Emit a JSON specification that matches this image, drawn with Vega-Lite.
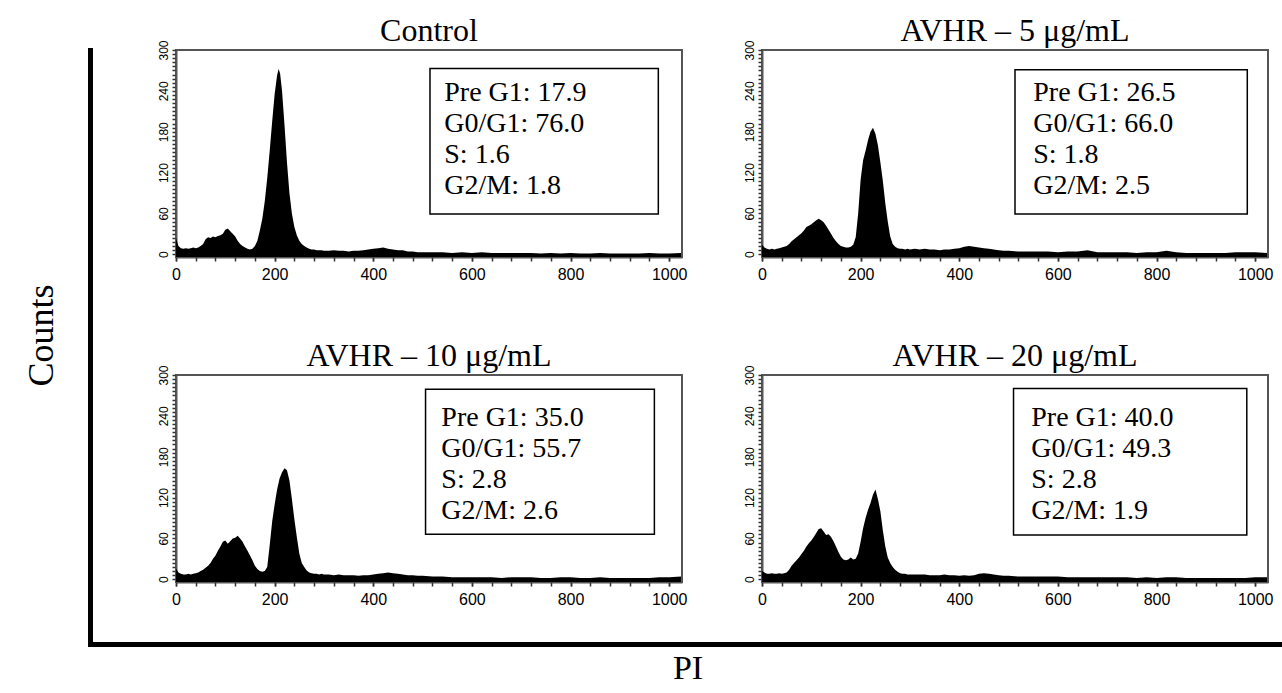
{
"$schema": "https://vega.github.io/schema/vega-lite/v6.json",
"autosize": {"type": "pad"},
"padding": {"left": 23, "top": 13, "right": 0, "bottom": 0},
"background": "white",
"datasets": {
"hist": [
{"dose":0,"pi":0,"count":24},{"dose":0,"pi":5,"count":12},{"dose":0,"pi":10,"count":9},{"dose":0,"pi":15,"count":8},{"dose":0,"pi":20,"count":9},{"dose":0,"pi":25,"count":8},{"dose":0,"pi":30,"count":9},{"dose":0,"pi":35,"count":10},{"dose":0,"pi":40,"count":9},{"dose":0,"pi":45,"count":10},{"dose":0,"pi":50,"count":12},{"dose":0,"pi":55,"count":15},{"dose":0,"pi":60,"count":22},{"dose":0,"pi":65,"count":25},{"dose":0,"pi":70,"count":24},{"dose":0,"pi":75,"count":26},{"dose":0,"pi":80,"count":25},{"dose":0,"pi":85,"count":27},{"dose":0,"pi":90,"count":28},{"dose":0,"pi":95,"count":30},{"dose":0,"pi":100,"count":36},{"dose":0,"pi":105,"count":38},{"dose":0,"pi":110,"count":34},{"dose":0,"pi":115,"count":30},{"dose":0,"pi":120,"count":26},{"dose":0,"pi":125,"count":20},{"dose":0,"pi":130,"count":15},{"dose":0,"pi":135,"count":12},{"dose":0,"pi":140,"count":10},{"dose":0,"pi":145,"count":8},{"dose":0,"pi":150,"count":7},{"dose":0,"pi":155,"count":8},{"dose":0,"pi":160,"count":12},{"dose":0,"pi":165,"count":20},{"dose":0,"pi":170,"count":35},{"dose":0,"pi":175,"count":52},{"dose":0,"pi":180,"count":78},{"dose":0,"pi":185,"count":112},{"dose":0,"pi":190,"count":152},{"dose":0,"pi":195,"count":195},{"dose":0,"pi":200,"count":235},{"dose":0,"pi":205,"count":263},{"dose":0,"pi":208,"count":272},{"dose":0,"pi":211,"count":266},{"dose":0,"pi":215,"count":240},{"dose":0,"pi":220,"count":190},{"dose":0,"pi":225,"count":135},{"dose":0,"pi":230,"count":90},{"dose":0,"pi":235,"count":60},{"dose":0,"pi":240,"count":40},{"dose":0,"pi":245,"count":28},{"dose":0,"pi":250,"count":20},{"dose":0,"pi":255,"count":15},{"dose":0,"pi":260,"count":12},{"dose":0,"pi":265,"count":10},{"dose":0,"pi":270,"count":8},{"dose":0,"pi":275,"count":7},{"dose":0,"pi":280,"count":7},{"dose":0,"pi":285,"count":6},{"dose":0,"pi":290,"count":6},{"dose":0,"pi":295,"count":6},{"dose":0,"pi":300,"count":5},{"dose":0,"pi":310,"count":5},{"dose":0,"pi":320,"count":6},{"dose":0,"pi":330,"count":5},{"dose":0,"pi":340,"count":5},{"dose":0,"pi":350,"count":4},{"dose":0,"pi":360,"count":5},{"dose":0,"pi":370,"count":5},{"dose":0,"pi":380,"count":6},{"dose":0,"pi":390,"count":7},{"dose":0,"pi":400,"count":8},{"dose":0,"pi":410,"count":9},{"dose":0,"pi":420,"count":10},{"dose":0,"pi":430,"count":8},{"dose":0,"pi":440,"count":7},{"dose":0,"pi":450,"count":6},{"dose":0,"pi":460,"count":6},{"dose":0,"pi":470,"count":4},{"dose":0,"pi":480,"count":4},{"dose":0,"pi":490,"count":3},{"dose":0,"pi":500,"count":3},{"dose":0,"pi":520,"count":3},{"dose":0,"pi":540,"count":3},{"dose":0,"pi":560,"count":2},{"dose":0,"pi":580,"count":3},{"dose":0,"pi":600,"count":2},{"dose":0,"pi":620,"count":3},{"dose":0,"pi":640,"count":2},{"dose":0,"pi":660,"count":2},{"dose":0,"pi":680,"count":2},{"dose":0,"pi":700,"count":2},{"dose":0,"pi":720,"count":2},{"dose":0,"pi":740,"count":1},{"dose":0,"pi":760,"count":2},{"dose":0,"pi":780,"count":1},{"dose":0,"pi":800,"count":2},{"dose":0,"pi":820,"count":1},{"dose":0,"pi":840,"count":1},{"dose":0,"pi":860,"count":2},{"dose":0,"pi":880,"count":1},{"dose":0,"pi":900,"count":1},{"dose":0,"pi":920,"count":1},{"dose":0,"pi":940,"count":1},{"dose":0,"pi":960,"count":2},{"dose":0,"pi":980,"count":1},{"dose":0,"pi":1000,"count":1},{"dose":0,"pi":1024,"count":2},
{"dose":5,"pi":0,"count":14},{"dose":5,"pi":5,"count":10},{"dose":5,"pi":10,"count":8},{"dose":5,"pi":15,"count":7},{"dose":5,"pi":20,"count":8},{"dose":5,"pi":25,"count":7},{"dose":5,"pi":30,"count":8},{"dose":5,"pi":35,"count":9},{"dose":5,"pi":40,"count":10},{"dose":5,"pi":45,"count":11},{"dose":5,"pi":50,"count":12},{"dose":5,"pi":55,"count":15},{"dose":5,"pi":60,"count":19},{"dose":5,"pi":65,"count":22},{"dose":5,"pi":70,"count":25},{"dose":5,"pi":75,"count":28},{"dose":5,"pi":80,"count":31},{"dose":5,"pi":85,"count":35},{"dose":5,"pi":90,"count":40},{"dose":5,"pi":95,"count":42},{"dose":5,"pi":100,"count":44},{"dose":5,"pi":105,"count":47},{"dose":5,"pi":110,"count":50},{"dose":5,"pi":115,"count":52},{"dose":5,"pi":120,"count":50},{"dose":5,"pi":125,"count":47},{"dose":5,"pi":130,"count":42},{"dose":5,"pi":135,"count":36},{"dose":5,"pi":140,"count":30},{"dose":5,"pi":145,"count":24},{"dose":5,"pi":150,"count":19},{"dose":5,"pi":155,"count":15},{"dose":5,"pi":160,"count":12},{"dose":5,"pi":165,"count":11},{"dose":5,"pi":170,"count":10},{"dose":5,"pi":175,"count":10},{"dose":5,"pi":180,"count":11},{"dose":5,"pi":185,"count":14},{"dose":5,"pi":190,"count":25},{"dose":5,"pi":195,"count":60},{"dose":5,"pi":200,"count":110},{"dose":5,"pi":205,"count":138},{"dose":5,"pi":210,"count":152},{"dose":5,"pi":215,"count":168},{"dose":5,"pi":220,"count":180},{"dose":5,"pi":225,"count":186},{"dose":5,"pi":230,"count":177},{"dose":5,"pi":235,"count":160},{"dose":5,"pi":240,"count":135},{"dose":5,"pi":245,"count":108},{"dose":5,"pi":250,"count":75},{"dose":5,"pi":255,"count":48},{"dose":5,"pi":260,"count":26},{"dose":5,"pi":265,"count":15},{"dose":5,"pi":270,"count":11},{"dose":5,"pi":275,"count":9},{"dose":5,"pi":280,"count":8},{"dose":5,"pi":285,"count":8},{"dose":5,"pi":290,"count":7},{"dose":5,"pi":295,"count":8},{"dose":5,"pi":300,"count":7},{"dose":5,"pi":310,"count":8},{"dose":5,"pi":320,"count":7},{"dose":5,"pi":330,"count":8},{"dose":5,"pi":340,"count":7},{"dose":5,"pi":350,"count":7},{"dose":5,"pi":360,"count":6},{"dose":5,"pi":370,"count":7},{"dose":5,"pi":380,"count":7},{"dose":5,"pi":390,"count":8},{"dose":5,"pi":400,"count":9},{"dose":5,"pi":410,"count":11},{"dose":5,"pi":420,"count":12},{"dose":5,"pi":430,"count":11},{"dose":5,"pi":440,"count":10},{"dose":5,"pi":450,"count":9},{"dose":5,"pi":460,"count":8},{"dose":5,"pi":470,"count":7},{"dose":5,"pi":480,"count":6},{"dose":5,"pi":490,"count":5},{"dose":5,"pi":500,"count":5},{"dose":5,"pi":520,"count":4},{"dose":5,"pi":540,"count":4},{"dose":5,"pi":560,"count":4},{"dose":5,"pi":580,"count":4},{"dose":5,"pi":600,"count":3},{"dose":5,"pi":620,"count":4},{"dose":5,"pi":640,"count":4},{"dose":5,"pi":660,"count":6},{"dose":5,"pi":680,"count":3},{"dose":5,"pi":700,"count":3},{"dose":5,"pi":720,"count":3},{"dose":5,"pi":740,"count":3},{"dose":5,"pi":760,"count":2},{"dose":5,"pi":780,"count":3},{"dose":5,"pi":800,"count":3},{"dose":5,"pi":820,"count":5},{"dose":5,"pi":840,"count":3},{"dose":5,"pi":860,"count":2},{"dose":5,"pi":880,"count":2},{"dose":5,"pi":900,"count":2},{"dose":5,"pi":920,"count":2},{"dose":5,"pi":940,"count":2},{"dose":5,"pi":960,"count":3},{"dose":5,"pi":980,"count":3},{"dose":5,"pi":1000,"count":3},{"dose":5,"pi":1024,"count":2},
{"dose":10,"pi":0,"count":16},{"dose":10,"pi":5,"count":10},{"dose":10,"pi":10,"count":8},{"dose":10,"pi":15,"count":7},{"dose":10,"pi":20,"count":7},{"dose":10,"pi":25,"count":8},{"dose":10,"pi":30,"count":7},{"dose":10,"pi":35,"count":8},{"dose":10,"pi":40,"count":9},{"dose":10,"pi":45,"count":10},{"dose":10,"pi":50,"count":12},{"dose":10,"pi":55,"count":14},{"dose":10,"pi":60,"count":17},{"dose":10,"pi":65,"count":20},{"dose":10,"pi":70,"count":24},{"dose":10,"pi":75,"count":30},{"dose":10,"pi":80,"count":35},{"dose":10,"pi":85,"count":42},{"dose":10,"pi":90,"count":48},{"dose":10,"pi":95,"count":55},{"dose":10,"pi":100,"count":57},{"dose":10,"pi":105,"count":52},{"dose":10,"pi":110,"count":56},{"dose":10,"pi":115,"count":60},{"dose":10,"pi":120,"count":61},{"dose":10,"pi":125,"count":64},{"dose":10,"pi":130,"count":60},{"dose":10,"pi":135,"count":55},{"dose":10,"pi":140,"count":48},{"dose":10,"pi":145,"count":42},{"dose":10,"pi":150,"count":35},{"dose":10,"pi":155,"count":28},{"dose":10,"pi":160,"count":20},{"dose":10,"pi":165,"count":15},{"dose":10,"pi":170,"count":12},{"dose":10,"pi":175,"count":11},{"dose":10,"pi":180,"count":12},{"dose":10,"pi":185,"count":18},{"dose":10,"pi":190,"count":50},{"dose":10,"pi":195,"count":85},{"dose":10,"pi":200,"count":110},{"dose":10,"pi":205,"count":132},{"dose":10,"pi":210,"count":148},{"dose":10,"pi":215,"count":157},{"dose":10,"pi":220,"count":163},{"dose":10,"pi":225,"count":160},{"dose":10,"pi":230,"count":145},{"dose":10,"pi":235,"count":118},{"dose":10,"pi":240,"count":88},{"dose":10,"pi":245,"count":62},{"dose":10,"pi":250,"count":38},{"dose":10,"pi":255,"count":24},{"dose":10,"pi":260,"count":18},{"dose":10,"pi":265,"count":13},{"dose":10,"pi":270,"count":10},{"dose":10,"pi":275,"count":9},{"dose":10,"pi":280,"count":8},{"dose":10,"pi":285,"count":8},{"dose":10,"pi":290,"count":7},{"dose":10,"pi":295,"count":8},{"dose":10,"pi":300,"count":7},{"dose":10,"pi":310,"count":7},{"dose":10,"pi":320,"count":6},{"dose":10,"pi":330,"count":7},{"dose":10,"pi":340,"count":6},{"dose":10,"pi":350,"count":6},{"dose":10,"pi":360,"count":6},{"dose":10,"pi":370,"count":5},{"dose":10,"pi":380,"count":6},{"dose":10,"pi":390,"count":6},{"dose":10,"pi":400,"count":7},{"dose":10,"pi":410,"count":8},{"dose":10,"pi":420,"count":9},{"dose":10,"pi":430,"count":10},{"dose":10,"pi":440,"count":9},{"dose":10,"pi":450,"count":8},{"dose":10,"pi":460,"count":7},{"dose":10,"pi":470,"count":6},{"dose":10,"pi":480,"count":6},{"dose":10,"pi":490,"count":5},{"dose":10,"pi":500,"count":5},{"dose":10,"pi":520,"count":4},{"dose":10,"pi":540,"count":4},{"dose":10,"pi":560,"count":3},{"dose":10,"pi":580,"count":3},{"dose":10,"pi":600,"count":3},{"dose":10,"pi":620,"count":3},{"dose":10,"pi":640,"count":3},{"dose":10,"pi":660,"count":2},{"dose":10,"pi":680,"count":3},{"dose":10,"pi":700,"count":3},{"dose":10,"pi":720,"count":3},{"dose":10,"pi":740,"count":2},{"dose":10,"pi":760,"count":2},{"dose":10,"pi":780,"count":3},{"dose":10,"pi":800,"count":3},{"dose":10,"pi":820,"count":2},{"dose":10,"pi":840,"count":2},{"dose":10,"pi":860,"count":3},{"dose":10,"pi":880,"count":2},{"dose":10,"pi":900,"count":2},{"dose":10,"pi":920,"count":2},{"dose":10,"pi":940,"count":2},{"dose":10,"pi":960,"count":2},{"dose":10,"pi":980,"count":3},{"dose":10,"pi":1000,"count":3},{"dose":10,"pi":1024,"count":4},
{"dose":20,"pi":0,"count":12},{"dose":20,"pi":5,"count":10},{"dose":20,"pi":10,"count":8},{"dose":20,"pi":15,"count":8},{"dose":20,"pi":20,"count":9},{"dose":20,"pi":25,"count":8},{"dose":20,"pi":30,"count":8},{"dose":20,"pi":35,"count":9},{"dose":20,"pi":40,"count":8},{"dose":20,"pi":45,"count":9},{"dose":20,"pi":50,"count":10},{"dose":20,"pi":55,"count":14},{"dose":20,"pi":60,"count":20},{"dose":20,"pi":65,"count":24},{"dose":20,"pi":70,"count":28},{"dose":20,"pi":75,"count":32},{"dose":20,"pi":80,"count":37},{"dose":20,"pi":85,"count":42},{"dose":20,"pi":90,"count":48},{"dose":20,"pi":95,"count":53},{"dose":20,"pi":100,"count":57},{"dose":20,"pi":105,"count":62},{"dose":20,"pi":110,"count":68},{"dose":20,"pi":115,"count":74},{"dose":20,"pi":120,"count":75},{"dose":20,"pi":125,"count":70},{"dose":20,"pi":130,"count":65},{"dose":20,"pi":135,"count":66},{"dose":20,"pi":140,"count":62},{"dose":20,"pi":145,"count":56},{"dose":20,"pi":150,"count":48},{"dose":20,"pi":155,"count":40},{"dose":20,"pi":160,"count":33},{"dose":20,"pi":165,"count":29},{"dose":20,"pi":170,"count":28},{"dose":20,"pi":175,"count":29},{"dose":20,"pi":180,"count":32},{"dose":20,"pi":185,"count":29},{"dose":20,"pi":190,"count":30},{"dose":20,"pi":195,"count":38},{"dose":20,"pi":200,"count":55},{"dose":20,"pi":205,"count":75},{"dose":20,"pi":210,"count":90},{"dose":20,"pi":215,"count":102},{"dose":20,"pi":220,"count":112},{"dose":20,"pi":225,"count":124},{"dose":20,"pi":230,"count":132},{"dose":20,"pi":235,"count":118},{"dose":20,"pi":240,"count":100},{"dose":20,"pi":245,"count":72},{"dose":20,"pi":250,"count":48},{"dose":20,"pi":255,"count":32},{"dose":20,"pi":260,"count":24},{"dose":20,"pi":265,"count":18},{"dose":20,"pi":270,"count":14},{"dose":20,"pi":275,"count":11},{"dose":20,"pi":280,"count":9},{"dose":20,"pi":285,"count":8},{"dose":20,"pi":290,"count":8},{"dose":20,"pi":295,"count":7},{"dose":20,"pi":300,"count":7},{"dose":20,"pi":310,"count":7},{"dose":20,"pi":320,"count":7},{"dose":20,"pi":330,"count":7},{"dose":20,"pi":340,"count":6},{"dose":20,"pi":350,"count":6},{"dose":20,"pi":360,"count":6},{"dose":20,"pi":370,"count":7},{"dose":20,"pi":380,"count":6},{"dose":20,"pi":390,"count":6},{"dose":20,"pi":400,"count":5},{"dose":20,"pi":410,"count":6},{"dose":20,"pi":420,"count":5},{"dose":20,"pi":430,"count":6},{"dose":20,"pi":440,"count":8},{"dose":20,"pi":450,"count":9},{"dose":20,"pi":460,"count":8},{"dose":20,"pi":470,"count":7},{"dose":20,"pi":480,"count":6},{"dose":20,"pi":490,"count":5},{"dose":20,"pi":500,"count":5},{"dose":20,"pi":520,"count":4},{"dose":20,"pi":540,"count":4},{"dose":20,"pi":560,"count":4},{"dose":20,"pi":580,"count":4},{"dose":20,"pi":600,"count":4},{"dose":20,"pi":620,"count":3},{"dose":20,"pi":640,"count":3},{"dose":20,"pi":660,"count":3},{"dose":20,"pi":680,"count":3},{"dose":20,"pi":700,"count":3},{"dose":20,"pi":720,"count":3},{"dose":20,"pi":740,"count":3},{"dose":20,"pi":760,"count":2},{"dose":20,"pi":780,"count":3},{"dose":20,"pi":800,"count":2},{"dose":20,"pi":820,"count":3},{"dose":20,"pi":840,"count":3},{"dose":20,"pi":860,"count":2},{"dose":20,"pi":880,"count":2},{"dose":20,"pi":900,"count":2},{"dose":20,"pi":920,"count":2},{"dose":20,"pi":940,"count":2},{"dose":20,"pi":960,"count":2},{"dose":20,"pi":980,"count":2},{"dose":20,"pi":1000,"count":3},{"dose":20,"pi":1024,"count":3}
],
"stats": [
{"dose":0,"line":1,"label":"Pre G1: 17.9"},{"dose":0,"line":2,"label":"G0/G1: 76.0"},{"dose":0,"line":3,"label":"S: 1.6"},{"dose":0,"line":4,"label":"G2/M: 1.8"},
{"dose":5,"line":1,"label":"Pre G1: 26.5"},{"dose":5,"line":2,"label":"G0/G1: 66.0"},{"dose":5,"line":3,"label":"S: 1.8"},{"dose":5,"line":4,"label":"G2/M: 2.5"},
{"dose":10,"line":1,"label":"Pre G1: 35.0"},{"dose":10,"line":2,"label":"G0/G1: 55.7"},{"dose":10,"line":3,"label":"S: 2.8"},{"dose":10,"line":4,"label":"G2/M: 2.6"},
{"dose":20,"line":1,"label":"Pre G1: 40.0"},{"dose":20,"line":2,"label":"G0/G1: 49.3"},{"dose":20,"line":3,"label":"S: 2.8"},{"dose":20,"line":4,"label":"G2/M: 1.9"}
]
},
"bounds": "flush",
"spacing": 593,
"vconcat": [
{
"bounds": "flush",
"spacing": 85,
"hconcat": [
{
"width": 1, "height": 594,
"view": {"stroke": null},
"data": {"name": "hist"},
"mark": {"type": "point", "opacity": 0},
"encoding": {
"y": {"field": "count", "type": "quantitative", "scale": {"domain": [-4, 300], "nice": false},
 "axis": {"title": "Counts", "domain": true, "domainWidth": 5, "domainColor": "black", "domainCap": "square", "ticks": false, "labels": false, "titleFont": "Liberation Serif", "titleFontSize": 36, "titleFontWeight": "normal", "titleColor": "black", "titlePadding": 30, "titleY": 285}}
}
},
{
"columns": 2,
"bounds": "flush",
"spacing": {"row": 118, "column": 80},
"concat": [
{
"width": 506, "height": 207, "title": "Control",
"resolve": {"scale": {"y": "independent"}, "axis": {"x": "independent"}},
"layer": [
{"data": {"name": "hist"}, "transform": [{"filter": "datum.dose === 0"}],
 "mark": {"type": "area", "color": "black"},
 "encoding": {
  "x": {"field": "pi", "type": "quantitative", "scale": {"domain": [0, 1026], "nice": false, "zero": false}, "axis": {"title": null, "orient": "bottom", "format": "d", "values": [0,200,400,600,800,1000]}},
  "y": {"field": "count", "type": "quantitative", "scale": {"domain": [-4, 300], "nice": false, "zero": false}, "axis": {"title": null, "format": "d", "values": [0,6,12,18,24,30,36,42,48,54,60,66,72,78,84,90,96,102,108,114,120,126,132,138,144,150,156,162,168,174,180,186,192,198,204,210,216,222,228,234,240,246,252,258,264,270,276,282,288,294,300], "labelExpr": "datum.value % 60 === 0 ? datum.label : ''"}},
  "y2": {"datum": -4}
 }},
{"data": {"values": [{}]},
 "mark": {"type": "rect", "fill": null, "stroke": "black", "strokeWidth": 1.5},
 "encoding": {"x": {"datum": 515, "type": "quantitative", "axis": {"title": null, "orient": "bottom", "labels": false, "domain": false, "values": [0,40,80,120,160,200,240,280,320,360,400,440,480,520,560,600,640,680,720,760,800,840,880,920,960,1000]}}, "x2": {"datum": 978}, "y": {"datum": 59, "type": "quantitative", "scale": {"domain": [-4, 300], "nice": false, "zero": false}, "axis": null}, "y2": {"datum": 273}}},
{"data": {"name": "stats"}, "transform": [{"filter": "datum.dose === 0"}],
 "mark": {"type": "text", "align": "left", "baseline": "middle", "font": "Liberation Serif", "fontSize": 28, "color": "black"},
 "encoding": {"x": {"datum": 544, "type": "quantitative", "axis": null}, "y": {"field": "line", "type": "quantitative", "scale": {"domain": [-0.387, 6.29], "reverse": true, "nice": false, "zero": false}, "axis": null}, "text": {"field": "label"}}}
]
},
{
"width": 506, "height": 207, "title": "AVHR – 5 μg/mL",
"resolve": {"scale": {"y": "independent"}, "axis": {"x": "independent"}},
"layer": [
{"data": {"name": "hist"}, "transform": [{"filter": "datum.dose === 5"}],
 "mark": {"type": "area", "color": "black"},
 "encoding": {
  "x": {"field": "pi", "type": "quantitative", "scale": {"domain": [0, 1026], "nice": false, "zero": false}, "axis": {"title": null, "orient": "bottom", "format": "d", "values": [0,200,400,600,800,1000]}},
  "y": {"field": "count", "type": "quantitative", "scale": {"domain": [-4, 300], "nice": false, "zero": false}, "axis": {"title": null, "format": "d", "values": [0,6,12,18,24,30,36,42,48,54,60,66,72,78,84,90,96,102,108,114,120,126,132,138,144,150,156,162,168,174,180,186,192,198,204,210,216,222,228,234,240,246,252,258,264,270,276,282,288,294,300], "labelExpr": "datum.value % 60 === 0 ? datum.label : ''"}},
  "y2": {"datum": -4}
 }},
{"data": {"values": [{}]},
 "mark": {"type": "rect", "fill": null, "stroke": "black", "strokeWidth": 1.5},
 "encoding": {"x": {"datum": 513, "type": "quantitative", "axis": {"title": null, "orient": "bottom", "labels": false, "domain": false, "values": [0,40,80,120,160,200,240,280,320,360,400,440,480,520,560,600,640,680,720,760,800,840,880,920,960,1000]}}, "x2": {"datum": 984}, "y": {"datum": 59, "type": "quantitative", "scale": {"domain": [-4, 300], "nice": false, "zero": false}, "axis": null}, "y2": {"datum": 271}}},
{"data": {"name": "stats"}, "transform": [{"filter": "datum.dose === 5"}],
 "mark": {"type": "text", "align": "left", "baseline": "middle", "font": "Liberation Serif", "fontSize": 28, "color": "black"},
 "encoding": {"x": {"datum": 550, "type": "quantitative", "axis": null}, "y": {"field": "line", "type": "quantitative", "scale": {"domain": [-0.387, 6.29], "reverse": true, "nice": false, "zero": false}, "axis": null}, "text": {"field": "label"}}}
]
},
{
"width": 506, "height": 207, "title": "AVHR – 10 μg/mL",
"resolve": {"scale": {"y": "independent"}, "axis": {"x": "independent"}},
"layer": [
{"data": {"name": "hist"}, "transform": [{"filter": "datum.dose === 10"}],
 "mark": {"type": "area", "color": "black"},
 "encoding": {
  "x": {"field": "pi", "type": "quantitative", "scale": {"domain": [0, 1026], "nice": false, "zero": false}, "axis": {"title": null, "orient": "bottom", "format": "d", "values": [0,200,400,600,800,1000]}},
  "y": {"field": "count", "type": "quantitative", "scale": {"domain": [-4, 300], "nice": false, "zero": false}, "axis": {"title": null, "format": "d", "values": [0,6,12,18,24,30,36,42,48,54,60,66,72,78,84,90,96,102,108,114,120,126,132,138,144,150,156,162,168,174,180,186,192,198,204,210,216,222,228,234,240,246,252,258,264,270,276,282,288,294,300], "labelExpr": "datum.value % 60 === 0 ? datum.label : ''"}},
  "y2": {"datum": -4}
 }},
{"data": {"values": [{}]},
 "mark": {"type": "rect", "fill": null, "stroke": "black", "strokeWidth": 1.5},
 "encoding": {"x": {"datum": 506, "type": "quantitative", "axis": {"title": null, "orient": "bottom", "labels": false, "domain": false, "values": [0,40,80,120,160,200,240,280,320,360,400,440,480,520,560,600,640,680,720,760,800,840,880,920,960,1000]}}, "x2": {"datum": 970}, "y": {"datum": 66, "type": "quantitative", "scale": {"domain": [-4, 300], "nice": false, "zero": false}, "axis": null}, "y2": {"datum": 279}}},
{"data": {"name": "stats"}, "transform": [{"filter": "datum.dose === 10"}],
 "mark": {"type": "text", "align": "left", "baseline": "middle", "font": "Liberation Serif", "fontSize": 28, "color": "black"},
 "encoding": {"x": {"datum": 538, "type": "quantitative", "axis": null}, "y": {"field": "line", "type": "quantitative", "scale": {"domain": [-0.387, 6.29], "reverse": true, "nice": false, "zero": false}, "axis": null}, "text": {"field": "label"}}}
]
},
{
"width": 506, "height": 207, "title": "AVHR – 20 μg/mL",
"resolve": {"scale": {"y": "independent"}, "axis": {"x": "independent"}},
"layer": [
{"data": {"name": "hist"}, "transform": [{"filter": "datum.dose === 20"}],
 "mark": {"type": "area", "color": "black"},
 "encoding": {
  "x": {"field": "pi", "type": "quantitative", "scale": {"domain": [0, 1026], "nice": false, "zero": false}, "axis": {"title": null, "orient": "bottom", "format": "d", "values": [0,200,400,600,800,1000]}},
  "y": {"field": "count", "type": "quantitative", "scale": {"domain": [-4, 300], "nice": false, "zero": false}, "axis": {"title": null, "format": "d", "values": [0,6,12,18,24,30,36,42,48,54,60,66,72,78,84,90,96,102,108,114,120,126,132,138,144,150,156,162,168,174,180,186,192,198,204,210,216,222,228,234,240,246,252,258,264,270,276,282,288,294,300], "labelExpr": "datum.value % 60 === 0 ? datum.label : ''"}},
  "y2": {"datum": -4}
 }},
{"data": {"values": [{}]},
 "mark": {"type": "rect", "fill": null, "stroke": "black", "strokeWidth": 1.5},
 "encoding": {"x": {"datum": 510, "type": "quantitative", "axis": {"title": null, "orient": "bottom", "labels": false, "domain": false, "values": [0,40,80,120,160,200,240,280,320,360,400,440,480,520,560,600,640,680,720,760,800,840,880,920,960,1000]}}, "x2": {"datum": 983}, "y": {"datum": 65, "type": "quantitative", "scale": {"domain": [-4, 300], "nice": false, "zero": false}, "axis": null}, "y2": {"datum": 280}}},
{"data": {"name": "stats"}, "transform": [{"filter": "datum.dose === 20"}],
 "mark": {"type": "text", "align": "left", "baseline": "middle", "font": "Liberation Serif", "fontSize": 28, "color": "black"},
 "encoding": {"x": {"datum": 546, "type": "quantitative", "axis": null}, "y": {"field": "line", "type": "quantitative", "scale": {"domain": [-0.387, 6.29], "reverse": true, "nice": false, "zero": false}, "axis": null}, "text": {"field": "label"}}}
]
}
]
}
]
},
{
"width": 1195, "height": 1,
"view": {"stroke": null},
"data": {"name": "hist"},
"mark": {"type": "point", "opacity": 0},
"encoding": {
"x": {"field": "pi", "type": "quantitative", "scale": {"domain": [0, 1026], "nice": false},
 "axis": {"title": "PI", "domain": true, "domainWidth": 5, "domainColor": "black", "domainCap": "square", "ticks": false, "labels": false, "titleFont": "Liberation Serif", "titleFontSize": 34, "titleFontWeight": "normal", "titleColor": "black", "titlePadding": 7}}
}
}
],
"config": {
"view": {"stroke": "#555", "strokeWidth": 2},
"axis": {"grid": false, "labelFont": "Liberation Sans", "labelColor": "#000", "tickColor": "#333", "tickWidth": 1.5, "tickSize": 4, "domainColor": "#555", "domainWidth": 2, "labelOverlap": false, "labelFlush": false},
"axisY": {"labelAngle": -90, "labelAlign": "center", "labelBaseline": "bottom", "labelPadding": 2, "labelFontSize": 12},
"axisX": {"labelPadding": 5, "labelFontSize": 16},
"title": {"font": "Liberation Serif", "fontSize": 32, "fontWeight": "normal", "color": "black", "offset": -8, "frame": "group", "baseline": "alphabetic"}
}
}
